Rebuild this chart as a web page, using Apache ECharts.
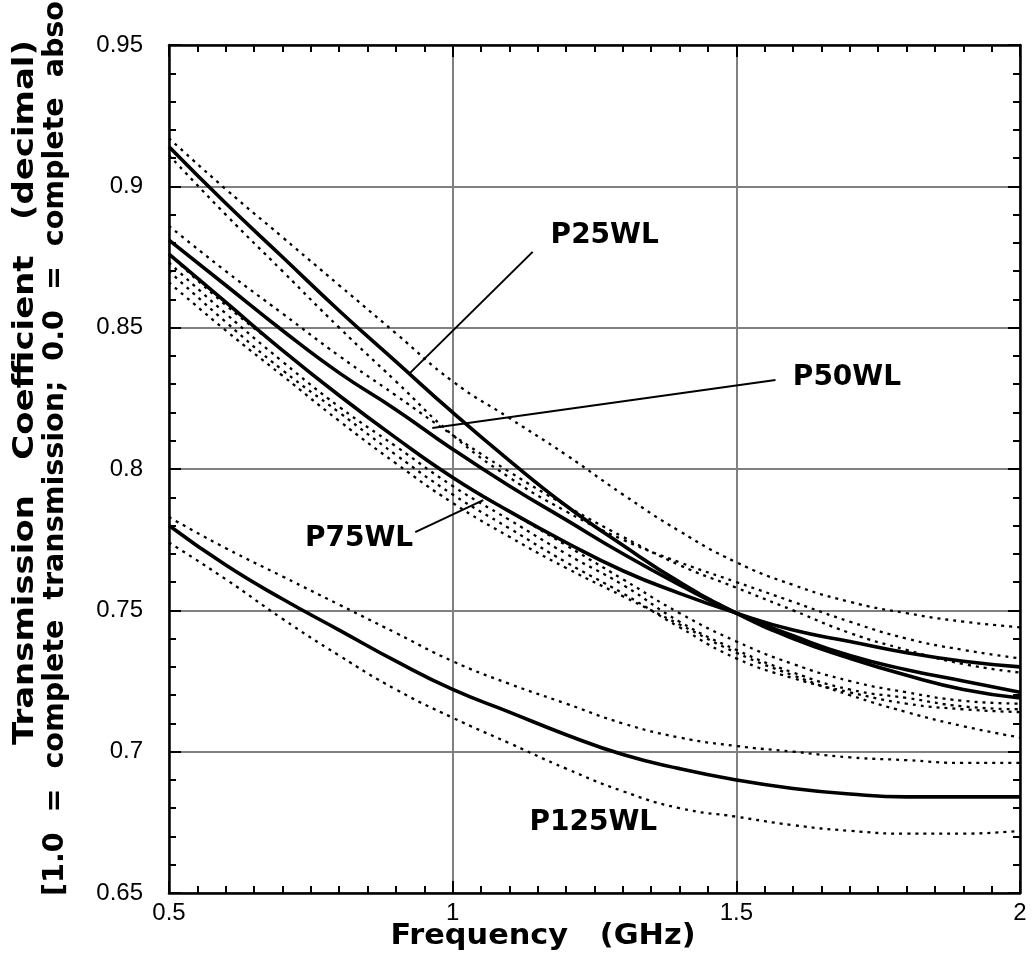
<!DOCTYPE html>
<html><head><meta charset="utf-8">
<script src="https://cdn.jsdelivr.net/npm/echarts@6/dist/echarts.min.js"></script>
<style>html,body{margin:0;padding:0;background:#fff}#c{width:1032px;height:978px}</style>
</head><body><div id="c"></div>
<script>
// Frequency (GHz)
const freq = [0.5,0.6,0.7,0.8,0.9,1.0,1.1,1.2,1.3,1.4,1.5,1.6,1.7,1.8,1.9,2.0];
// solid curves
const p25  = [0.914,0.894,0.875,0.856,0.838,0.820,0.803,0.787,0.773,0.760,0.749,0.740,0.733,0.727,0.722,0.719];
const p50  = [0.881,0.865,0.849,0.834,0.821,0.807,0.794,0.782,0.770,0.759,0.749,0.741,0.734,0.729,0.725,0.721];
const p75  = [0.876,0.859,0.842,0.826,0.811,0.797,0.785,0.774,0.764,0.756,0.749,0.743,0.739,0.735,0.732,0.730];
const p125 = [0.780,0.766,0.754,0.743,0.732,0.722,0.714,0.706,0.699,0.694,0.690,0.687,0.685,0.684,0.684,0.684];
// dotted curves
const dA = [0.917,0.899,0.882,0.865,0.848,0.831,0.818,0.805,0.791,0.778,0.767,0.759,0.753,0.749,0.746,0.744];
const dB = [0.911,0.890,0.870,0.850,0.831,0.812,0.797,0.785,0.775,0.767,0.760,0.753,0.746,0.740,0.736,0.733];
const dC = [0.886,0.870,0.855,0.840,0.826,0.812,0.799,0.787,0.776,0.766,0.758,0.750,0.742,0.736,0.731,0.728];
const dD = [0.876,0.858,0.842,0.826,0.811,0.797,0.785,0.773,0.761,0.749,0.739,0.731,0.725,0.721,0.718,0.717];
const dE = [0.873,0.855,0.838,0.822,0.808,0.794,0.782,0.770,0.759,0.746,0.736,0.728,0.722,0.719,0.716,0.715];
const dF = [0.870,0.852,0.835,0.820,0.805,0.791,0.779,0.767,0.756,0.744,0.733,0.726,0.721,0.717,0.715,0.714];
const dG = [0.866,0.849,0.833,0.817,0.802,0.788,0.776,0.765,0.755,0.745,0.735,0.727,0.720,0.714,0.709,0.705];
const dH = [0.783,0.772,0.762,0.752,0.742,0.732,0.724,0.717,0.710,0.705,0.702,0.700,0.698,0.697,0.696,0.696];
const dI = [0.774,0.761,0.747,0.734,0.722,0.712,0.703,0.694,0.686,0.680,0.677,0.674,0.672,0.671,0.671,0.672];
// tick labels
const xTicks = [0.5,1,1.5,2];
const yTicks = [0.65,0.7,0.75,0.8,0.85,0.9,0.95];
// annotations: label, label point, leader line
const labels = [
  {text:'P25WL',  at:[1.268,0.8824], leader:[[0.925,0.834],[1.141,0.8768]]},
  {text:'P50WL',  at:[1.695,0.8322], leader:[[0.964,0.8145],[1.569,0.8315]]},
  {text:'P75WL',  at:[0.835,0.7752], leader:[[0.934,0.7777],[1.054,0.789]]},
  {text:'P125WL', at:[1.248,0.6748], leader:null}
];
const yTitle1 = 'Transmission   Coefficient   (decimal)';
const yTitle2 = '[1.0  =  complete  transmission;  0.0  =  complete  absorption]';
const yTitle2Visible = '[1.0  =  complete  transmission;  0.0  =  complete  abso';
const xTitle = 'Frequency   (GHz)';

const chart = echarts.init(document.getElementById('c'), null, {renderer:'canvas'});
const pair = arr => freq.map((f,i)=>[f,arr[i]]);
const solid = arr => ({type:'line', data:pair(arr), smooth:true, symbol:'none', silent:true,
  lineStyle:{color:'#000', width:3.6}, z:5});
const dotted = arr => ({type:'line', data:pair(arr), smooth:true, symbol:'none', silent:true,
  lineStyle:{color:'#000', width:2.3, type:[3,5]}, z:4});

const series = [solid(p25),solid(p50),solid(p75),solid(p125),
  dotted(dA),dotted(dB),dotted(dC),dotted(dD),dotted(dE),dotted(dF),dotted(dG),dotted(dH),dotted(dI)];
labels.forEach(l=>{
  if(l.leader) series.push({type:'line', data:l.leader, symbol:'none', silent:true,
    lineStyle:{color:'#000', width:2}, z:6});
  series.push({type:'scatter', data:[l.at], symbolSize:0, silent:true, z:7,
    itemStyle:{opacity:1},
    label:{show:true, position:'inside', formatter:l.text, color:'#000', opacity:1,
      fontFamily:'DejaVu Sans', fontWeight:'bold', fontSize:28}});
});

// measure text for stretching the axis titles
const titleFont = 'bold 28px "DejaVu Sans"';
const mctx = document.createElement('canvas').getContext('2d');
mctx.font = titleFont;
const s1 = 705 / mctx.measureText(yTitle1).width;
const s2 = 895 / mctx.measureText(yTitle2Visible).width;
const sx = 305 / mctx.measureText(xTitle).width;

const tickFont = {color:'#000', fontFamily:'Liberation Sans', fontSize:24};
const axisBase = {
  type:'value', axisLine:{show:true, onZero:false, lineStyle:{color:'#000', width:2.5}},
  axisTick:{show:true, inside:true, length:12, lineStyle:{color:'#000', width:2}},
  minorTick:{show:true, length:7, lineStyle:{color:'#000', width:2}},
  splitLine:{show:false}
};
chart.setOption({
  animation:false,
  backgroundColor:'#fff',
  grid:{left:169, right:12, top:45, bottom:85},
  xAxis:[
    Object.assign({}, axisBase, {min:0.5, max:2, interval:0.5, position:'bottom',
      minorTick:Object.assign({}, axisBase.minorTick, {splitNumber:10}),
      splitLine:{show:true, lineStyle:{color:'#808080', width:2}},
      axisLabel:Object.assign({}, tickFont, {margin:8, formatter:v=>xTicks.includes(+v.toFixed(2))?String(+v.toFixed(2)):''})}),
    Object.assign({}, axisBase, {min:0.5, max:2, interval:0.5, position:'top',
      minorTick:Object.assign({}, axisBase.minorTick, {splitNumber:10}),
      axisLabel:{show:false}})
  ],
  yAxis:[
    Object.assign({}, axisBase, {min:0.65, max:0.95, interval:0.05, position:'left',
      minorTick:Object.assign({}, axisBase.minorTick, {splitNumber:5}),
      splitLine:{show:true, lineStyle:{color:'#808080', width:2}},
      axisLabel:Object.assign({}, tickFont, {margin:26, formatter:v=>{const r=+v.toFixed(2); return yTicks.includes(r)?String(r):'';}})}),
    Object.assign({}, axisBase, {min:0.65, max:0.95, interval:0.05, position:'right',
      minorTick:Object.assign({}, axisBase.minorTick, {splitNumber:5}),
      axisLabel:{show:false}})
  ],
  graphic:[
    {type:'text', x:26, y:745, rotation:Math.PI/2, scaleX:s1, silent:true,
      style:{text:yTitle1, fill:'#000', font:titleFont, textAlign:'left', textVerticalAlign:'middle'}},
    {type:'text', x:56, y:896, rotation:Math.PI/2, scaleX:s2, silent:true,
      style:{text:yTitle2, fill:'#000', font:titleFont, textAlign:'left', textVerticalAlign:'middle'}},
    {type:'text', x:543, y:937, scaleX:sx, silent:true,
      style:{text:xTitle, fill:'#000', font:titleFont, textAlign:'center', textVerticalAlign:'middle'}}
  ],
  series:series
});
</script></body></html>
